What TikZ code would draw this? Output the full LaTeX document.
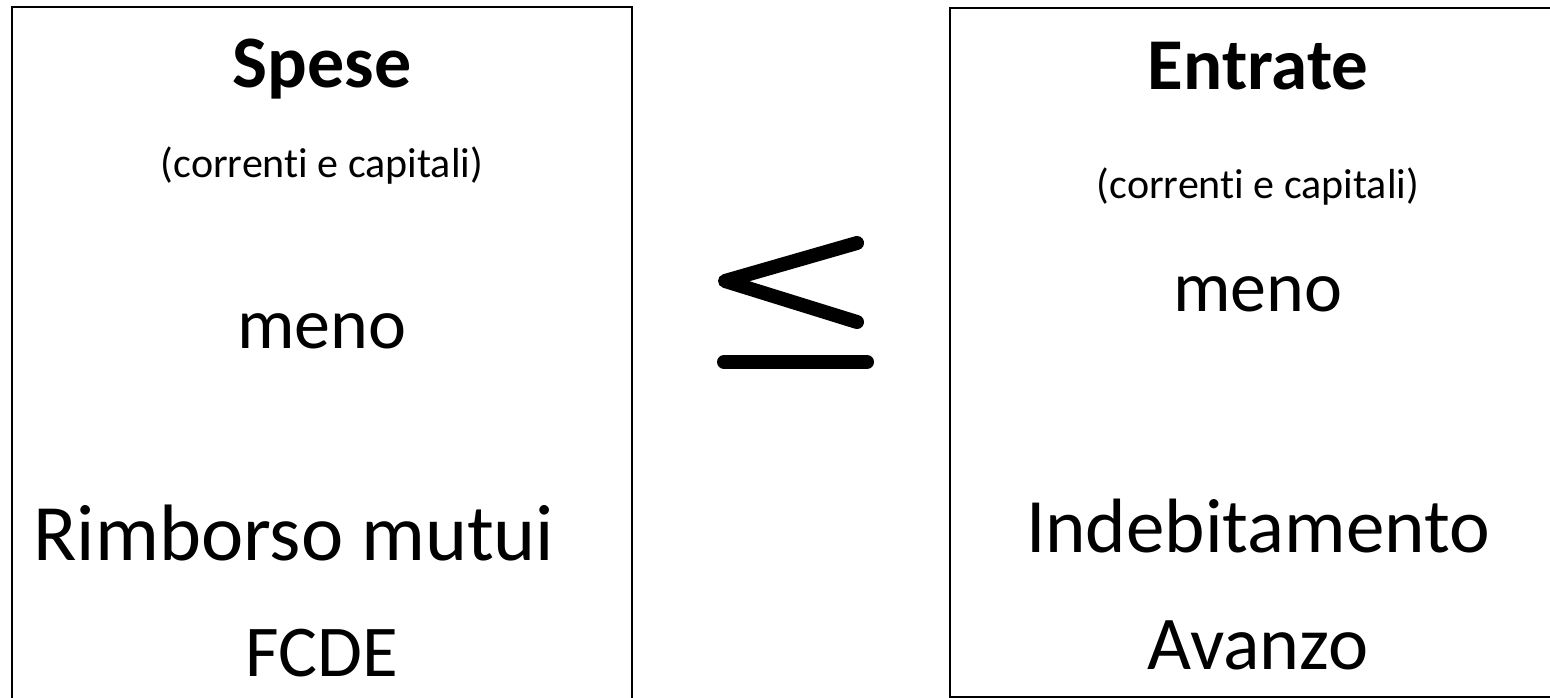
\documentclass[tikz,border=0pt]{standalone}
\usepackage{fontspec}
\setmainfont[Ligatures=NoCommon]{Carlito}
\begin{document}
\begin{tikzpicture}[x=1pt,y=-1pt,
  box/.style={draw=black,line width=2pt,fill=none},
  txt/.style={anchor=base,inner sep=0pt,font=\fontsize{72}{72}\selectfont},
  ttl/.style={anchor=base,inner sep=0pt,font=\fontsize{74}{74}\selectfont\bfseries},
  sub/.style={anchor=base,inner sep=0pt,font=\fontsize{42}{42}\selectfont},
  symb/.style={line width=14pt,line cap=round,line join=round}]
\useasboundingbox (0,0) rectangle (1550,698);
\draw[box] (12,7.5) rectangle (632,720);
\draw[box] (950,8) rectangle (1570,697);
% left
\node[ttl] (spese) at (322,88) {Spese};
\node[sub] (subl) at (322,178) {(correnti e capitali)};
\node[txt] (menol) at (322,348) {meno};
\node[txt,font=\fontsize{80}{80}\selectfont] (rimb) at (294,560) {Rimborso mutui};
\node[txt,font=\fontsize{73}{73}\selectfont] (fcde) at (322,676) {FCDE};
% right
\node[ttl,font=\fontsize{73}{73}\selectfont\bfseries] (entr) at (1258,90) {Entrate};
\node[sub] (subr) at (1258,198) {(correnti e capitali)};
\node[txt] (menor) at (1258,311) {meno};
\node[txt,font=\fontsize{77}{77}\selectfont] (indeb) at (1258,552) {Indebitamento};
\node[txt,font=\fontsize{76}{76}\selectfont] (avan) at (1258,669) {Avanzo};
% symbol
\coordinate (lt) at (857,243);
\coordinate (lm) at (725,281);
\coordinate (lb) at (857,322);
\coordinate (bl) at (724,362);
\coordinate (br) at (867,362);
\draw[symb] (lt) -- (lm) -- (lb);
\draw[symb] (bl) -- (br);
\end{tikzpicture}
\end{document}
